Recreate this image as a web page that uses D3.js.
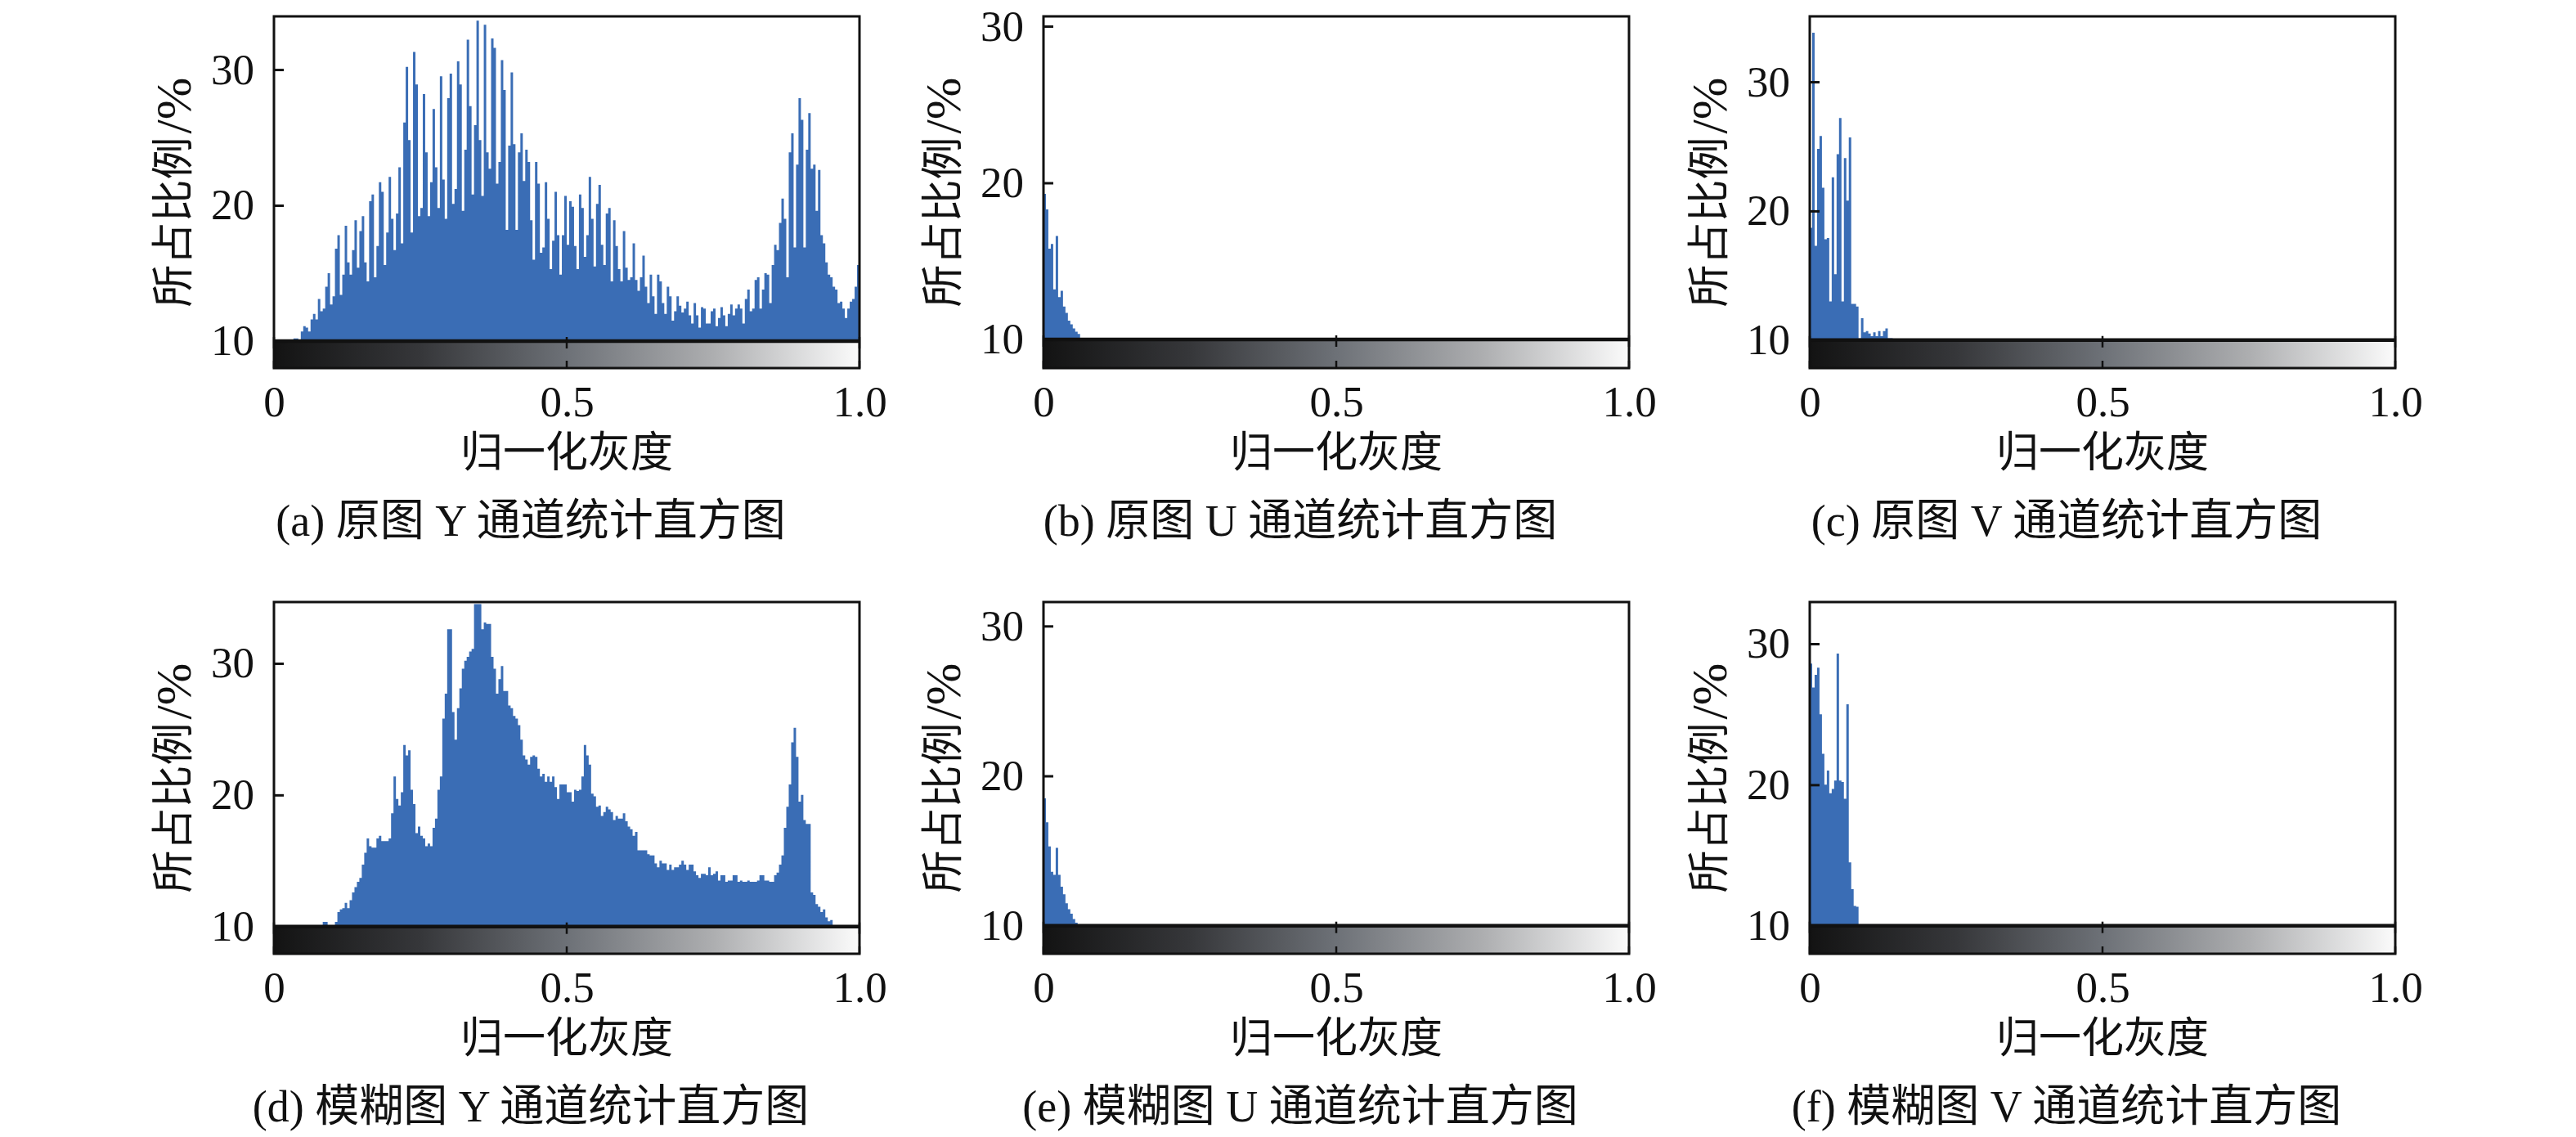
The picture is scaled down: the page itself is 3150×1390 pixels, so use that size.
<!DOCTYPE html>
<html>
<head>
<meta charset="utf-8">
<script src="https://cdn.jsdelivr.net/npm/d3@7"></script>
<style>
  body { margin: 0; background: #fff; }
  svg { display: block; }
</style>
</head>
<body>
<svg id="chart" width="3150" height="1390"></svg>
<script>
// 直方图数据（所占比例/%），每组240个灰度区间，低于10的部分被灰度条遮住
const histYOrig = [
  10, 10, 10, 10, 10, 10, 10, 10,
  10.2, 10.2, 10.1, 10.7, 11.1, 11.0, 10.7, 11.6, 12.0, 11.6,
  13.1, 12.2, 12.4, 14.0, 15.0, 12.7, 13.3, 16.8, 17.8, 13.4,
  14.9, 18.5, 15.8, 14.9, 16.7, 18.9, 15.4, 18.1, 19.2, 15.8,
  14.4, 20.3, 20.8, 14.7, 17.0, 21.7, 21.0, 15.6, 18.0, 22.1,
  19.0, 16.7, 19.4, 22.8, 17.2, 26.1, 30.2, 24.8, 18.0, 31.3,
  28.9, 19.2, 19.8, 28.2, 23.9, 19.2, 21.7, 27.1, 22.8, 19.8,
  29.5, 21.9, 19.0, 27.9, 29.7, 20.1, 21.2, 30.6, 28.9, 19.6,
  24.1, 32.2, 27.3, 20.8, 25.9, 33.6, 24.8, 20.7, 33.3, 23.9,
  22.7, 32.3, 31.6, 21.6, 23.2, 30.7, 28.5, 18.2, 24.4, 29.8,
  24.5, 18.2, 23.9, 25.3, 21.8, 24.1, 23.2, 18.9, 16.0, 23.2,
  21.6, 16.5, 16.9, 21.7, 19.0, 15.3, 17.4, 21.0, 17.8, 14.9,
  17.8, 20.7, 17.1,
  20.3, 19.9, 17.0, 15.3, 20.8, 19.8, 16.2, 17.8, 22.1, 19.0,
  15.5, 20.1, 21.5, 17.1, 15.6, 19.4, 19.8, 14.4, 18.9, 17.0,
  15.3, 14.4, 18.1, 15.4, 14.5, 14.7, 17.2, 14.5, 13.7, 14.7,
  16.3, 14.0, 12.8, 14.9, 13.3, 12.0, 14.9, 14.4, 12.8, 12.0,
  14.0, 13.3, 11.5, 12.2, 13.3, 12.6, 12.1, 12.4, 12.9, 11.9,
  11.3, 12.8, 11.9, 11.0, 12.5, 12.4, 11.3, 11.3, 12.2, 12.4,
  11.1, 11.7, 12.5, 11.9, 11.1, 12.0, 12.7, 11.9, 12.4, 12.7,
  12.4, 11.3, 13.1, 13.8, 12.2, 12.4, 14.5, 14.7, 12.4, 13.8,
  15.0, 14.9, 12.8, 15.6, 17.1, 16.7, 18.7, 20.5, 19.0, 14.7,
  23.9, 25.3, 16.9, 23.0, 27.9, 26.3, 16.9, 24.1, 26.8, 22.7,
  23.0, 19.6, 22.6, 17.8, 17.2, 15.8, 14.9, 14.7, 14.0, 13.8,
  12.8, 12.9, 12.4, 11.7, 12.4, 12.9, 13.1, 14.0, 15.6
];

const histUOrig = [
  19.3, 18.3, 15.8, 16.1, 13.2, 16.6, 12.7, 13.1, 12.1, 11.7,
  11.2, 10.96, 10.7, 10.5, 10.35, 10.1
];

const histVOrig = [
  18.7, 33.8, 17.3, 24.8, 25.8, 21.8, 17.8, 17.9, 13.0, 22.6,
  15.1, 24.4, 27.2, 13.0, 24.1, 20.8, 25.7, 12.8, 12.8, 12.6,
  10.15, 11.7, 10.6, 10.7, 10.5, 10.3, 10.6, 10.3, 10.7, 10.3,
  10.7, 10.9, 10.15, 10.15
];

const histYBlur = [
  10, 10, 10, 10, 10, 10, 10, 10, 10, 10, 10, 10, 10, 10, 10, 10,
  10.1, 10.1, 10.1, 10.1, 10.35, 10.35, 10.1, 10.1, 10.1, 10.35,
  11.1, 11.3, 11.4, 11.8, 11.4, 12.0, 12.6, 13.0, 13.4, 13.7,
  14.7, 15.6, 16.7, 16.1, 16.0, 16.0, 16.7, 16.9, 16.5, 16.5,
  16.5, 16.7, 18.6, 21.4, 19.7, 19.2, 20.2, 23.8, 23.0, 23.4,
  20.4, 19.3, 17.1, 17.6, 16.9, 16.7, 16.1, 16.3, 16.1, 17.5,
  18.2, 20.4, 21.4, 25.8, 27.7, 32.6, 32.6, 26.3, 24.2, 26.6,
  28.1, 29.6, 30.2, 30.5, 30.9, 31.1, 34.5, 34.5, 34.5, 32.6,
  33.1, 33.0, 33.0, 30.5, 29.6, 27.7, 28.8, 29.8, 27.9, 27.9,
  26.8, 26.6, 26.0, 25.8, 25.3, 24.2, 23.0, 22.7, 22.3, 22.9,
  23.0, 22.9, 22.0, 21.4, 21.6, 21.0, 21.4, 21.0, 21.4, 20.6,
  19.7, 20.8, 20.8, 20.8,
  20.2, 20.2, 19.5, 20.4, 20.3, 20.4, 21.4, 23.8, 23.0, 22.3,
  20.1, 19.9, 19.1, 19.2, 18.4, 18.7, 19.1, 18.9, 18.7, 18.1,
  18.4, 18.2, 18.2, 18.6, 18.0, 17.6, 17.4, 16.9, 17.2, 15.8,
  15.8, 15.8, 15.8, 15.5, 15.4, 15.4, 14.8, 14.5, 15.0, 14.8,
  14.8, 14.3, 14.7, 14.3, 14.5, 14.5, 14.7, 15.0, 14.7, 14.3,
  14.7, 14.7, 14.2, 13.9, 13.7, 14.0, 14.0, 13.9, 14.5, 13.9,
  14.0, 14.2, 13.5, 13.9, 13.9, 13.4, 13.5, 13.5, 13.9, 13.9,
  13.4, 13.5, 13.4, 13.4, 13.5, 13.4, 13.4, 13.4, 13.5, 13.9,
  13.9, 13.5, 13.5, 13.4, 13.4, 13.9, 14.1, 14.7, 15.4, 17.5,
  19.1, 20.8, 24.0, 25.1, 22.9, 19.5, 20.0, 18.1, 17.8, 17.8,
  12.6, 12.4, 11.7, 11.5, 11.1, 11.3, 10.7, 10.4, 10.5,
  10, 10, 10, 10, 10, 10, 10, 10, 10, 10, 10
];

const histUBlur = [
  18.5, 16.9, 15.3, 13.6, 13.4, 15.2, 13.4, 12.6, 12.1, 11.5,
  11.1, 10.8, 10.45, 10.2, 10.1
];

const histVBlur = [
  28.6, 26.9, 27.8, 28.3, 25.0, 22.2, 20.0, 21.0, 19.4, 19.7,
  20.3, 29.3, 20.3, 20.2, 19.0, 25.7, 14.5, 12.6, 11.4, 11.35
];

const binCount = 240;  // 每幅直方图的灰度区间数

const captions = [
  "(a) 原图 Y 通道统计直方图",
  "(b) 原图 U 通道统计直方图",
  "(c) 原图 V 通道统计直方图",
  "(d) 模糊图 Y 通道统计直方图",
  "(e) 模糊图 U 通道统计直方图",
  "(f) 模糊图 V 通道统计直方图"
];

// 各子图纵轴显示范围
const yRanges = [
  [8.01, 33.92], [8.17, 30.63], [7.83, 35.07],
  [7.93, 34.66], [8.13, 31.6], [8.01, 32.96]
];

const yTicks = [10, 20, 30];
const xTicks = [0, 0.5, 1];
const xTickLabels = ["0", "0.5", "1.0"];
const xLabel = "归一化灰度";
const yLabelMain = "所占比例";
const yLabelUnit = "/%";
const baseValue = 10;

// 灰度条颜色（位置, 颜色）
const grayStops = [
  [0, '#131313'], [0.25, '#36373a'], [0.5, '#6d7177'],
  [0.75, '#adaeb0'], [1, '#fbfbfb']
];

const histList = [histYOrig, histUOrig, histVOrig, histYBlur, histUBlur, histVBlur];

// 布局
const plotW = 716, plotH = 430;
const colLeft = [335, 1276, 2213];
const rowTop = [20, 736];
const barColor = '#3a6db5';
const latinFont = "'Liberation Serif', 'Times New Roman', serif";
const mixFont = "'Liberation Serif', 'Noto Sans CJK SC', serif";

const svg = d3.select('#chart');

// 灰度条渐变
const grad = svg.append('defs').append('linearGradient')
  .attr('id', 'grayBar')
  .attr('x1', '0%').attr('x2', '100%')
  .attr('y1', '0%').attr('y2', '0%');
grad.selectAll('stop')
  .data(grayStops)
  .enter().append('stop')
  .attr('offset', d => (d[0] * 100) + '%')
  .attr('stop-color', d => d[1]);

histList.forEach((values, k) => {
  const left = colLeft[k % 3];
  const top = rowTop[Math.floor(k / 3)];
  const bottom = top + plotH;

  const x = d3.scaleLinear().domain([0, 1]).range([left, left + plotW]);
  const y = d3.scaleLinear().domain(yRanges[k]).range([bottom, top]);

  const g = svg.append('g').attr('class', 'panel');

  g.append('clipPath').attr('id', 'clip' + k)
    .append('rect')
    .attr('x', left).attr('y', top)
    .attr('width', plotW).attr('height', plotH);

  // 直方图（阶梯面积）
  const pts = values.map((v, i) => ({ b: i / binCount, v: Math.max(v, baseValue) }));
  pts.push({ b: values.length / binCount, v: baseValue });

  const area = d3.area()
    .curve(d3.curveStepAfter)
    .x(d => x(d.b))
    .y0(y(baseValue))
    .y1(d => y(d.v));

  g.append('path')
    .datum(pts)
    .attr('clip-path', 'url(#clip' + k + ')')
    .attr('fill', barColor)
    .attr('d', area);

  // 灰度条
  g.append('rect')
    .attr('x', left)
    .attr('y', y(baseValue))
    .attr('width', plotW)
    .attr('height', bottom - y(baseValue))
    .attr('fill', 'url(#grayBar)');

  g.append('line')
    .attr('x1', left).attr('x2', left + plotW)
    .attr('y1', y(baseValue)).attr('y2', y(baseValue))
    .attr('stroke', '#111').attr('stroke-width', 4.5);

  // 横轴刻度线（灰度条内）
  g.selectAll('line.xt-top')
    .data(xTicks)
    .enter().append('line')
    .attr('class', 'xt-top')
    .attr('x1', d => x(d)).attr('x2', d => x(d))
    .attr('y1', y(baseValue) - 5).attr('y2', y(baseValue) + 9)
    .attr('stroke', '#111').attr('stroke-width', 2.5);

  g.selectAll('line.xt-bot')
    .data(xTicks)
    .enter().append('line')
    .attr('class', 'xt-bot')
    .attr('x1', d => x(d)).attr('x2', d => x(d))
    .attr('y1', bottom - 9).attr('y2', bottom)
    .attr('stroke', '#111').attr('stroke-width', 2.5);

  // 纵轴
  const yAxis = g.append('g')
    .attr('transform', `translate(${left},0)`)
    .call(d3.axisLeft(y).tickValues(yTicks).tickSize(-12).tickPadding(24).tickFormat(d3.format('d')));
  yAxis.select('.domain').remove();
  yAxis.selectAll('.tick line').attr('stroke', '#111').attr('stroke-width', 3);
  yAxis.selectAll('.tick text')
    .attr('font-family', latinFont)
    .attr('font-size', 53)
    .attr('fill', '#111');

  // 横轴刻度文字
  const xAxis = g.append('g')
    .attr('transform', `translate(0,${bottom})`)
    .call(d3.axisBottom(x).tickValues(xTicks).tickSize(0).tickPadding(21)
      .tickFormat((d, i) => xTickLabels[i]));
  xAxis.select('.domain').remove();
  xAxis.selectAll('.tick text')
    .attr('font-family', latinFont)
    .attr('font-size', 53)
    .attr('fill', '#111');

  // 边框
  g.append('rect')
    .attr('x', left).attr('y', top)
    .attr('width', plotW).attr('height', plotH)
    .attr('fill', 'none')
    .attr('stroke', '#111')
    .attr('stroke-width', 3);

  // 轴标题
  g.append('text')
    .attr('x', left + plotW / 2)
    .attr('y', bottom + 103)
    .attr('text-anchor', 'middle')
    .attr('dominant-baseline', 'central')
    .attr('font-family', mixFont)
    .attr('font-size', 52)
    .attr('fill', '#111')
    .text(xLabel);

  const yl = g.append('text')
    .attr('transform', `translate(${left - 123},${top + plotH / 2}) rotate(-90)`)
    .attr('text-anchor', 'middle')
    .attr('dominant-baseline', 'central')
    .attr('font-family', mixFont)
    .attr('font-size', 52)
    .attr('fill', '#111');
  yl.append('tspan').text(yLabelMain);
  yl.append('tspan').attr('font-size', 62).attr('dx', 4).text(yLabelUnit);

  // 子图标题
  g.append('text')
    .attr('x', left + 314)
    .attr('y', bottom + 187)
    .attr('text-anchor', 'middle')
    .attr('dominant-baseline', 'central')
    .attr('font-family', mixFont)
    .attr('font-size', 54)
    .attr('fill', '#111')
    .text(captions[k]);
});
</script>
</body>
</html>
